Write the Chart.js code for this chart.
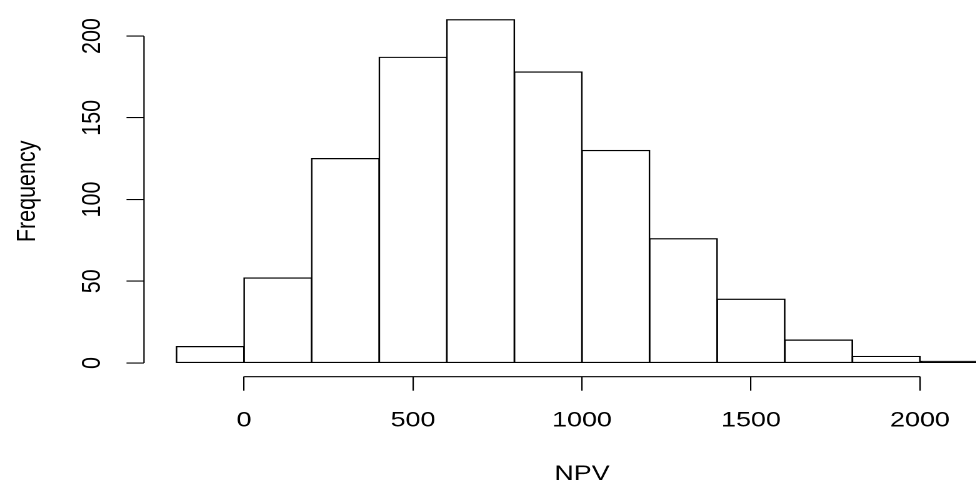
<!DOCTYPE html>
<html>
<head>
<meta charset="utf-8">
<script src="https://cdn.jsdelivr.net/npm/chart.js@4"></script>
<style>
  html, body { margin: 0; padding: 0; background: #fff; overflow: hidden; }
  #wrap { width: 976px; height: 480px; overflow: hidden; position: relative; }
  /* the R plot is stretched sideways, so stretch the canvas the same way */
  #npvChart { transform: scaleX(1.25); transform-origin: 0 0; display: block; }
</style>
</head>
<body>
<div id="wrap"><canvas id="npvChart" width="816" height="480"></canvas></div>
<script>
const binEdges = [-200, 0, 200, 400, 600, 800, 1000, 1200, 1400, 1600, 1800, 2000, 2200];
const frequencies = [10, 52, 125, 187, 210, 178, 130, 76, 39, 14, 4, 1];
const xTicks = [0, 500, 1000, 1500, 2000];
const yTicks = [0, 50, 100, 150, 200];

// R extends the axis range by 4% on each side
const xPad = 0.04 * (binEdges[binEdges.length - 1] - binEdges[0]);
const yPad = 0.04 * 210;

const font = { family: "'Liberation Sans', Arial, sans-serif", size: 21.5 };

// R draws the axis lines only between the first and last tick
const axisLines = {
    id: 'axisLines',
    afterDraw(chart) {
        const { ctx, chartArea, scales } = chart;
        ctx.save();
        ctx.strokeStyle = '#000';
        ctx.lineWidth = 1.1;
        ctx.beginPath();
        ctx.moveTo(scales.x.getPixelForValue(xTicks[0]), chartArea.bottom);
        ctx.lineTo(scales.x.getPixelForValue(xTicks[xTicks.length - 1]), chartArea.bottom);
        ctx.moveTo(chartArea.left, scales.y.getPixelForValue(yTicks[0]));
        ctx.lineTo(chartArea.left, scales.y.getPixelForValue(yTicks[yTicks.length - 1]));
        ctx.stroke();
        ctx.restore();
    }
};

// a bar thinner than its own outline is drawn solid, as R does
function barFill(c) {
    if (!c.raw) return '#fff';
    const y = c.chart.scales.y;
    return (y.getPixelForValue(0) - y.getPixelForValue(c.raw.y)) < 2.4 ? '#000' : '#fff';
}

const ctx = document.getElementById('npvChart').getContext('2d');
new Chart(ctx, {
    type: 'bar',
    data: {
        datasets: [{
            data: frequencies.map((f, i) => ({ x: (binEdges[i] + binEdges[i + 1]) / 2, y: f })),
            backgroundColor: barFill,
            borderColor: '#000',
            // inflate so the outline sits centred on the bin edges, like R's rect()
            borderWidth: { top: 1.2, bottom: 1.2, left: 1.3, right: 1.3 },
            borderSkipped: false,
            inflateAmount: 0.6,
            barPercentage: 1,
            categoryPercentage: 1
        }]
    },
    options: {
        responsive: false,
        animation: false,
        devicePixelRatio: 2,
        layout: { padding: { top: 6, left: 0, right: 0, bottom: 0 } },
        plugins: { legend: { display: false }, tooltip: { enabled: false } },
        scales: {
            x: {
                type: 'linear',
                min: binEdges[0] - xPad,
                max: binEdges[binEdges.length - 1] + xPad,
                offset: false,
                afterBuildTicks: s => { s.ticks = xTicks.map(v => ({ value: v })); },
                afterFit: s => { s.height = 103.3; s.paddingLeft = 0; s.paddingRight = 0; },
                grid: { drawOnChartArea: false, drawTicks: true, tickLength: 14, color: '#000', lineWidth: 1.1, offset: false },
                border: { display: false },
                ticks: { font: font, color: '#000', padding: 17, maxRotation: 0, autoSkip: false, callback: v => String(v) },
                title: { display: true, text: 'NPV', font: font, color: '#000', padding: { top: 0, bottom: -7 } }
            },
            y: {
                min: -yPad,
                max: 210 + yPad,
                afterBuildTicks: s => { s.ticks = yTicks.map(v => ({ value: v })); },
                afterFit: s => { s.width = 115.2; s.paddingTop = 0; s.paddingBottom = 0; },
                grid: { drawOnChartArea: false, drawTicks: true, tickLength: 14, color: '#000', lineWidth: 1.1 },
                border: { display: false },
                ticks: { font: font, color: '#000', padding: 9, minRotation: 90, maxRotation: 90, crossAlign: 'center', autoSkip: false, callback: v => String(v) },
                title: { display: true, text: 'Frequency', font: font, color: '#000', padding: { top: 9, bottom: 0 } }
            }
        }
    },
    plugins: [axisLines]
});
</script>
</body>
</html>
